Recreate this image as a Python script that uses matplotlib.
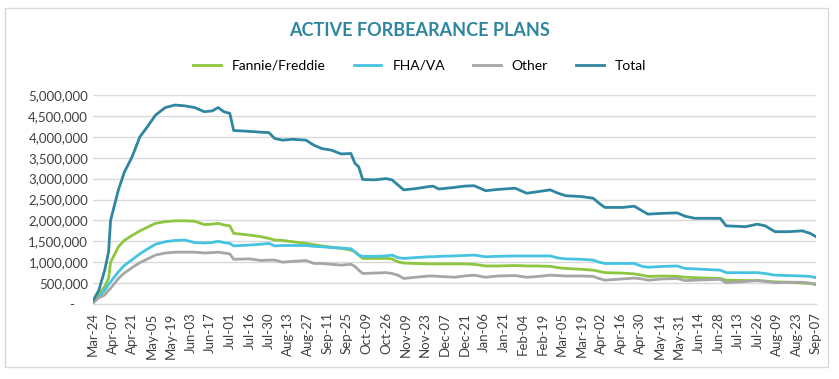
import matplotlib
matplotlib.use('Agg')
import matplotlib.pyplot as plt
from matplotlib.ticker import FuncFormatter
from matplotlib.patches import Rectangle

plt.rcParams['font.family'] = ['Lato', 'DejaVu Sans']

# business-day index (0 = Mar-24, 370 = Sep-07) of each reading
day_idx = [0, 3, 6, 8, 9, 13, 16, 20, 24, 28, 32, 37, 42, 47, 52, 57, 61, 64, 67, 70,
           72, 80, 86, 90, 93, 97, 102, 109, 113, 117, 122, 127, 132, 134, 136, 138,
           144, 150, 153, 156, 159, 165, 172, 174, 177, 185, 190, 195, 201, 207, 216,
           222, 228, 234, 238, 242, 250, 256, 259, 262, 271, 277, 281, 284, 292, 299,
           303, 308, 321, 324, 334, 340, 344, 349, 356, 363, 367, 370]

total = [80, 330, 810, 1250, 2000, 2730, 3150, 3520, 4000, 4250, 4520, 4700, 4760, 4740,
         4700, 4600, 4620, 4700, 4600, 4560, 4150, 4130, 4110, 4100, 3960, 3920, 3940,
         3920, 3800, 3720, 3680, 3590, 3600, 3370, 3280, 2980, 2970, 3000, 2970, 2850,
         2730, 2760, 2810, 2820, 2750, 2790, 2820, 2830, 2710, 2740, 2770, 2650, 2690,
         2730, 2650, 2590, 2570, 2530, 2410, 2310, 2310, 2340, 2230, 2150, 2170, 2180,
         2100, 2050, 2050, 1870, 1850, 1910, 1870, 1730, 1730, 1750, 1690, 1610]

fannie_freddie = [50, 230, 420, 620, 1000, 1370, 1520, 1640, 1750, 1840, 1930, 1970, 1990,
                  1990, 1980, 1900, 1910, 1930, 1890, 1870, 1690, 1650, 1610, 1570, 1530,
                  1520, 1490, 1450, 1420, 1390, 1360, 1330, 1290, 1250, 1170, 1090, 1090,
                  1090, 1080, 1010, 980, 970, 960, 960, 960, 960, 960, 950, 910, 910, 920,
                  910, 910, 900, 870, 850, 830, 810, 780, 750, 740, 720, 690, 660, 670, 660,
                  640, 630, 610, 570, 560, 560, 550, 530, 520, 500, 490, 480]

fha_va = [30, 170, 330, 470, 530, 770, 920, 1060, 1200, 1320, 1430, 1490, 1520, 1530,
          1470, 1460, 1470, 1500, 1470, 1450, 1390, 1410, 1430, 1450, 1390, 1400, 1400,
          1400, 1380, 1370, 1350, 1340, 1320, 1250, 1170, 1140, 1140, 1150, 1170, 1110,
          1090, 1110, 1130, 1130, 1140, 1150, 1160, 1170, 1130, 1140, 1150, 1150, 1150,
          1150, 1100, 1080, 1070, 1050, 1000, 970, 970, 970, 900, 880, 900, 910, 850, 840,
          810, 750, 750, 750, 730, 690, 680, 670, 660, 630]

other = [30, 150, 215, 330, 375, 610, 740, 870, 990, 1080, 1170, 1220, 1240, 1240, 1240,
         1220, 1230, 1240, 1220, 1200, 1070, 1080, 1040, 1050, 1050, 1000, 1020, 1040, 970,
         970, 950, 930, 950, 900, 810, 730, 740, 750, 730, 690, 610, 640, 670, 670, 660,
         640, 670, 690, 640, 670, 680, 640, 660, 690, 680, 670, 670, 660, 610, 570, 600,
         620, 600, 570, 600, 610, 560, 570, 590, 510, 540, 560, 540, 510, 520, 520, 500, 460]

tick_labels = ['Mar-24', 'Apr-07', 'Apr-21', 'May-05', 'May-19', 'Jun-03', 'Jun-17',
               'Jul-01', 'Jul-16', 'Jul-30', 'Aug-13', 'Aug-27', 'Sep-11', 'Sep-25',
               'Oct-09', 'Oct-26', 'Nov-09', 'Nov-23', 'Dec-07', 'Dec-21', 'Jan-06',
               'Jan-21', 'Feb-04', 'Feb-19', 'Mar-05', 'Mar-19', 'Apr-02', 'Apr-16',
               'Apr-30', 'May-14', 'May-31', 'Jun-14', 'Jun-28', 'Jul-13', 'Jul-26',
               'Aug-09', 'Aug-23', 'Sep-07']
tick_step = 10  # one label every 10 business days

series = [('Fannie/Freddie', fannie_freddie, '#8DC63F'),
          ('FHA/VA', fha_va, '#45C3E1'),
          ('Other', other, '#A6A6A6'),
          ('Total', total, '#2E86A0')]

################################
def thousands(x, pos):
    if x == 0:
        return '-    '
    return '{:,.0f}'.format(x)
################################

fig = plt.figure(figsize=(8.39, 3.79), dpi=100)
fig.patches.append(Rectangle((5/839, 12/379), 823/839, 359/379, transform=fig.transFigure,
                             fill=False, edgecolor='#D9D9D9', linewidth=1))
ax = fig.add_axes([93/839, 75/379, 723/839, 209/379])

for name, vals, col in series:
    ax.plot(day_idx, [v * 1000 for v in vals], color=col, lw=2, label=name,
            solid_joinstyle='round')

ax.set_xlim(0, 370)
ax.set_ylim(0, 5000000)
ax.set_yticks(range(0, 5000001, 500000))
ax.yaxis.set_major_formatter(FuncFormatter(thousands))
ax.set_xticks([i * tick_step for i in range(len(tick_labels))])
ax.set_xticklabels(tick_labels, rotation=90)
ax.tick_params(axis='both', length=0, labelsize=9.5, colors='#404040')
ax.tick_params(axis='x', pad=6)
ax.yaxis.grid(color='#D9D9D9', lw=1)
ax.set_axisbelow(True)
for s in ['top', 'right', 'left']:
    ax.spines[s].set_visible(False)
ax.spines['bottom'].set_color('#D9D9D9')

fig.text(0.5, 1 - 30/379, 'ACTIVE FORBEARANCE PLANS', ha='center', va='center',
         fontsize=13, fontweight='bold', color='#2E86A0')
fig.legend(loc='center', bbox_to_anchor=(0.5, 1 - 66/379), ncol=4, frameon=False,
           fontsize=10, handlelength=2, columnspacing=2, handletextpad=0.8)

plt.savefig('out.png', dpi=100)
